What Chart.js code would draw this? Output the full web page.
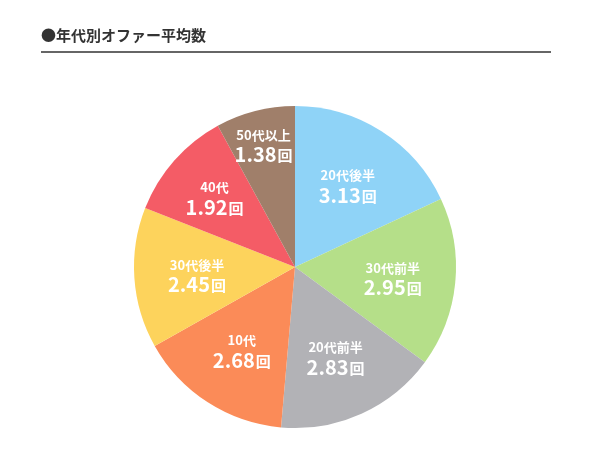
<!DOCTYPE html>
<html lang="ja">
<head>
<meta charset="utf-8">
<script src="https://cdn.jsdelivr.net/npm/chart.js@4"></script>
<style>
  html, body { margin: 0; padding: 0; background: #fff; }
  #wrap { position: relative; width: 600px; height: 450px; }
</style>
</head>
<body>
<div id="wrap"><canvas id="offerChart"></canvas></div>
<script>
// data
const chartTitle = '●年代別オファー平均数';
const ageGroups = ['20代後半', '30代前半', '20代前半', '10代', '30代後半', '40代', '50代以上'];
const offerAverages = [3.13, 2.95, 2.83, 2.68, 2.45, 1.92, 1.38];
const unitLabel = '回';

const sliceColors = ['#8fd3f7', '#b5df89', '#b2b2b6', '#fb8b58', '#fdd35c', '#f45c66', '#a07f6a'];
const jpFont = '"Noto Sans CJK JP", "Noto Sans", sans-serif';

// title + underline
const titlePlugin = {
    id: 'titleLine',
    afterDraw(chart) {
        const ctx = chart.ctx;
        ctx.save();
        ctx.fillStyle = '#333';
        ctx.font = 'bold 15px ' + jpFont;
        ctx.textBaseline = 'middle';
        ctx.textAlign = 'left';
        ctx.fillText(chartTitle, 41, 35);
        ctx.strokeStyle = '#333';
        ctx.lineWidth = 1.5;
        ctx.beginPath();
        ctx.moveTo(41, 52);
        ctx.lineTo(551, 52);
        ctx.stroke();
        ctx.restore();
    }
};

// two-line labels inside each slice
const sliceLabels = {
    id: 'sliceLabels',
    afterDatasetsDraw(chart) {
        const ctx = chart.ctx;
        const meta = chart.getDatasetMeta(0);
        ctx.save();
        ctx.fillStyle = '#fff';
        ctx.textBaseline = 'middle';
        meta.data.forEach((arc, i) => {
            const p = arc.getProps(['x', 'y', 'startAngle', 'endAngle', 'outerRadius'], true);
            const mid = (p.startAngle + p.endAngle) / 2;
            const deg = (p.endAngle - p.startAngle) * 180 / Math.PI;
            // narrow slices get their label pushed further out
            const f = deg > 45 ? 0.61 : 0.61 + (45 - deg) * 0.011;
            const cx = p.x + Math.cos(mid) * p.outerRadius * f;
            const cy = p.y + Math.sin(mid) * p.outerRadius * f;

            ctx.textAlign = 'center';
            ctx.font = 'bold 13px ' + jpFont;
            ctx.fillText(ageGroups[i], cx, cy - 9);

            const num = offerAverages[i].toFixed(2);
            ctx.font = 'bold 20px ' + jpFont;
            const wNum = ctx.measureText(num).width;
            ctx.font = 'bold 15px ' + jpFont;
            const wUnit = ctx.measureText(unitLabel).width;
            const left = cx - (wNum + wUnit + 1) / 2;
            ctx.textAlign = 'left';
            ctx.font = 'bold 20px ' + jpFont;
            ctx.fillText(num, left, cy + 11);
            ctx.font = 'bold 15px ' + jpFont;
            ctx.fillText(unitLabel, left + wNum + 1, cy + 12);
        });
        ctx.restore();
    }
};

new Chart(document.getElementById('offerChart'), {
    type: 'pie',
    data: {
        labels: ageGroups,
        datasets: [{
            data: offerAverages,
            backgroundColor: sliceColors,
            borderWidth: 0,
            hoverOffset: 0
        }]
    },
    options: {
        responsive: true,
        maintainAspectRatio: false,
        animation: false,
        layout: { padding: { left: 134, right: 144, top: 106, bottom: 22 } },
        plugins: {
            legend: { display: false },
            tooltip: { enabled: false }
        }
    },
    plugins: [titlePlugin, sliceLabels]
});
</script>
</body>
</html>
